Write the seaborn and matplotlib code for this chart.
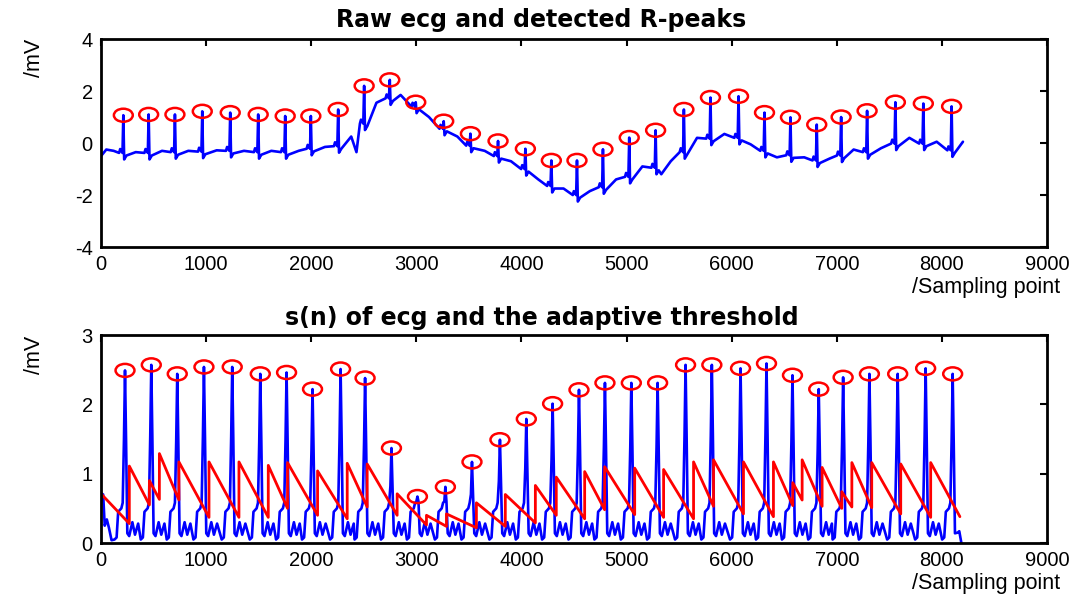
import numpy as np
import pandas as pd
import seaborn as sns
import matplotlib.pyplot as plt
from matplotlib.path import Path
from matplotlib.transforms import Affine2D

# ---- raw ecg: R-peaks ----
raw_r_x = [212, 453, 703, 963, 1229, 1495, 1752, 1996, 2256, 2503, 2747, 2994, 3260, 3514, 3777, 4037,
           4284, 4528, 4775, 5025, 5276, 5545, 5798, 6065, 6312, 6559, 6809, 7041, 7288, 7557, 7823, 8092]
raw_r_y = [1.07, 1.10, 1.10, 1.22, 1.17, 1.10, 1.04, 1.04, 1.29, 2.20, 2.43, 1.57, 0.84, 0.36, 0.08, -0.22,
           -0.67, -0.67, -0.24, 0.21, 0.49, 1.29, 1.75, 1.80, 1.17, 0.99, 0.71, 1.00, 1.24, 1.57, 1.52, 1.41]
# baseline level at the foot of each R-peak
raw_base = [-0.38, -0.38, -0.35, -0.33, -0.30, -0.35, -0.35, -0.22, -0.12, 0.75, 1.72, 1.40, 0.55, -0.10,
            -0.50, -1.00, -1.65, -2.00, -1.70, -1.30, -0.95, -0.35, 0.17, 0.20, -0.30, -0.47, -0.67, -0.48,
            -0.35, -0.02, -0.02, -0.28]
# baseline points between the beats
raw_knot_x = [0, 50, 120, 330, 580, 830, 1100, 1360, 1620, 1880, 2130, 2380, 2430, 2620, 2850, 3120, 3390,
              3650, 3900, 4160, 4400, 4650, 4900, 5150, 5330, 5420, 5670, 5930, 6180, 6430, 6690, 6930,
              7160, 7420, 7690, 7950, 8200]
raw_knot_y = [-0.50, -0.25, -0.30, -0.35, -0.30, -0.30, -0.28, -0.30, -0.30, -0.30, -0.15, 0.25, -0.35,
              1.55, 1.85, 1.00, 0.25, -0.30, -0.70, -1.40, -1.75, -1.85, -1.40, -0.90, -1.20, -0.70, 0.20,
              0.35, -0.05, -0.55, -0.55, -0.60, -0.25, -0.20, 0.20, 0.05, 0.05]
# shape of one beat around the R-peak (offset in samples, level above baseline)
raw_beat_off = [-40, -30, -8, 8, 30]
raw_beat_dy = [0.0, 0.15, 0.0, -0.25, -0.10]

# ---- s(n): detected peaks ----
sn_r_x = [228, 478, 725, 979, 1248, 1515, 1765, 2012, 2279, 2512, 2763, 3010, 3276, 3529, 3795, 4046,
          4296, 4547, 4794, 5045, 5295, 5561, 5811, 6084, 6331, 6578, 6828, 7060, 7310, 7579, 7845, 8102]
sn_r_y = [2.49, 2.57, 2.44, 2.54, 2.54, 2.44, 2.46, 2.22, 2.51, 2.38, 1.37, 0.67, 0.81, 1.17, 1.49, 1.79,
          2.01, 2.21, 2.31, 2.31, 2.31, 2.57, 2.57, 2.52, 2.59, 2.42, 2.22, 2.39, 2.44, 2.44, 2.52, 2.44]
sn_beat_off = [-100, -80, -65, -35, -22, 22, 40, 70, 95, 125]
sn_beat_val = [0.05, 0.08, 0.45, 0.50, 0.58, 0.14, 0.10, 0.30, 0.12, 0.28]
sn_head_x = [0, 20, 35, 55, 75, 100]
sn_head_y = [0.72, 0.70, 0.25, 0.34, 0.22, 0.04]
sn_tail_x = [8150, 8165, 8185]
sn_tail_y = [0.15, 0.17, 0.0]

# ---- adaptive threshold: jump position, value after jump, value just before next jump ----
thr_x = [0, 269, 460, 555, 741, 1027, 1312, 1591, 1774, 2060, 2342, 2532, 2817, 3096, 3286, 3571, 3846,
         4132, 4331, 4601, 4791, 5077, 5352, 5637, 5827, 6112, 6397, 6581, 6670, 6860, 7047, 7143, 7332,
         7608, 7893]
thr_top = [0.71, 1.11, 0.90, 1.29, 1.17, 1.17, 1.17, 1.12, 1.16, 1.04, 1.15, 1.14, 0.71, 0.40, 0.42, 0.58,
           0.70, 0.83, 0.95, 1.03, 1.10, 1.08, 1.06, 1.17, 1.20, 1.17, 1.17, 0.87, 1.20, 1.09, 0.74, 1.16,
           1.16, 1.14, 1.16]
thr_end = [0.28, 0.55, 0.63, 0.62, 0.37, 0.37, 0.37, 0.50, 0.40, 0.35, 0.52, 0.40, 0.26, 0.24, 0.22, 0.24,
           0.29, 0.40, 0.35, 0.48, 0.41, 0.37, 0.35, 0.53, 0.42, 0.38, 0.54, 0.62, 0.53, 0.50, 0.52, 0.51,
           0.42, 0.37, 0.38]
thr_last = 8171

# build the raw ecg polyline
pts = list(zip(raw_knot_x, raw_knot_y))
for r, pk, b in zip(raw_r_x, raw_r_y, raw_base):
    pts += [(r + o, b + d) for o, d in zip(raw_beat_off, raw_beat_dy)]
    pts.append((r, pk))
pts.sort()
raw = pd.DataFrame(pts, columns=["n", "mv"])

# build s(n) polyline
sx, sy = list(sn_head_x), list(sn_head_y)
for i, (r, pk) in enumerate(zip(sn_r_x, sn_r_y)):
    k = max(0.6 * pk, 0.6)
    offs = sn_beat_off[:5] + [-10, 0, 10] + sn_beat_off[5:]
    vals = sn_beat_val[:5] + [k, pk, k] + sn_beat_val[5:]
    for o, v in zip(offs, vals):
        if i == len(sn_r_x) - 1 and o > 22:
            continue
        sx.append(r + o)
        sy.append(v)
sx += sn_tail_x
sy += sn_tail_y
sn = pd.DataFrame({"n": sx, "v": sy})

# threshold polyline (vertical jumps)
tx, ty = [], []
for i in range(len(thr_x)):
    x1 = thr_x[i + 1] if i + 1 < len(thr_x) else thr_last
    tx += [thr_x[i], x1]
    ty += [thr_top[i], thr_end[i]]
thr = pd.DataFrame({"n": tx, "v": ty})

sns.set_style("white")
plt.rcParams["font.family"] = ["Liberation Sans", "DejaVu Sans"]
plt.rcParams["axes.unicode_minus"] = False
plt.rcParams["text.color"] = "black"
plt.rcParams["xtick.color"] = "black"
plt.rcParams["ytick.color"] = "black"

ring = Path.unit_circle().transformed(Affine2D().scale(1.45, 1.0))

fig = plt.figure(figsize=(10.83, 6.01), dpi=100)
ax1 = fig.add_axes([0.0933, 0.589, 0.8735, 0.346])
ax2 = fig.add_axes([0.0933, 0.0965, 0.8735, 0.346])

sns.lineplot(data=raw, x="n", y="mv", sort=False, estimator=None, color="blue", lw=1.9, ax=ax1)
ax1.scatter(raw_r_x, raw_r_y, marker=ring, s=185, facecolors="none", edgecolors="red", linewidths=1.8, zorder=3)

sns.lineplot(data=sn, x="n", y="v", sort=False, estimator=None, color="blue", lw=1.9, ax=ax2)
sns.lineplot(data=thr, x="n", y="v", sort=False, estimator=None, color="red", lw=2.0, ax=ax2)
ax2.scatter(sn_r_x, sn_r_y, marker=ring, s=185, facecolors="none", edgecolors="red", linewidths=1.8, zorder=3)

for ax, lo, hi, yt in [(ax1, -4, 4, [-4, -2, 0, 2, 4]), (ax2, 0, 3, [0, 1, 2, 3])]:
    ax.set_xlim(0, 9000)
    ax.set_ylim(lo, hi)
    ax.set_xticks(range(0, 9001, 1000))
    ax.set_yticks(yt)
    ax.set_xlabel("")
    ax.set_ylabel("")
    ax.tick_params(direction="in", top=True, right=True, length=5, width=1.5, labelsize=14.5, pad=6,
                   colors="black")
    for s in ax.spines.values():
        s.set_linewidth(2)
        s.set_color("black")

title_font = dict(ha="center", va="center", fontsize=17, fontweight="bold", family=["DejaVu Sans"], color="black")
fig.text(0.5, 1 - 20 / 601, "Raw ecg and detected R-peaks", **title_font)
fig.text(0.5, 1 - 318 / 601, "s(n) of ecg and the adaptive threshold", **title_font)
fig.text(1060 / 1083, 1 - 287 / 601, "/Sampling point", ha="right", va="center", fontsize=15.5, color="black")
fig.text(1060 / 1083, 1 - 584 / 601, "/Sampling point", ha="right", va="center", fontsize=15.5, color="black")
fig.text(35 / 1083, 1 - 58 / 601, "/mV", rotation=90, ha="center", va="center", fontsize=15.5, color="black")
fig.text(35 / 1083, 1 - 355 / 601, "/mV", rotation=90, ha="center", va="center", fontsize=15.5, color="black")

fig.savefig("out.png", dpi=100)
